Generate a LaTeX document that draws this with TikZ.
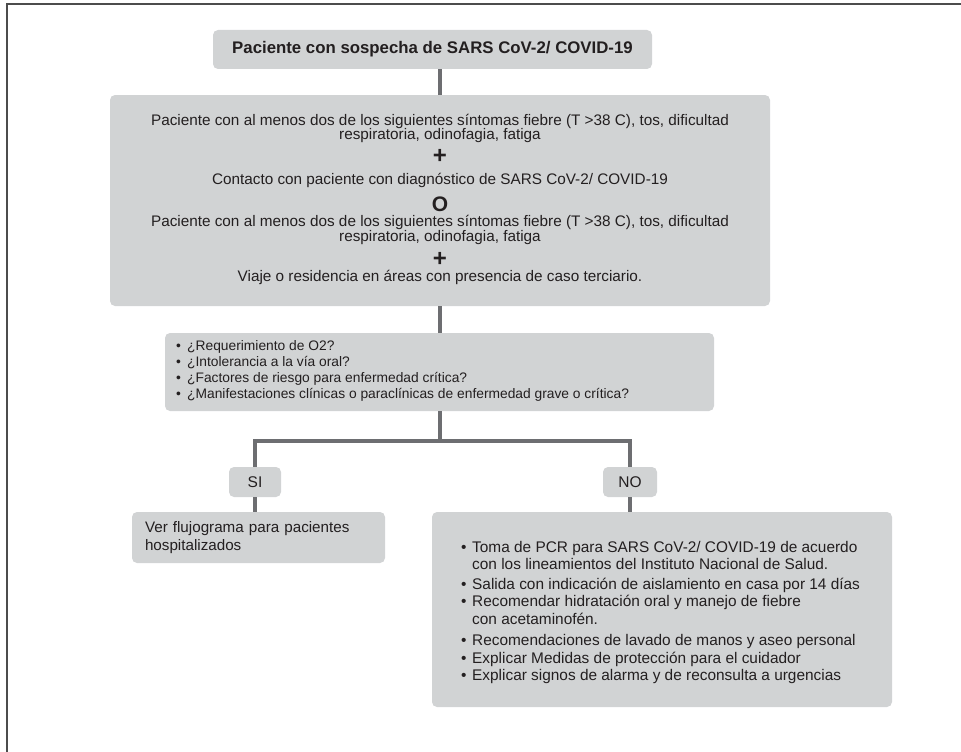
\documentclass[tikz,border=0pt]{standalone}
\usepackage{fontspec}
\setmainfont{Liberation Sans}
\definecolor{boxgray}{HTML}{D1D3D4}
\definecolor{linegray}{HTML}{6D6E71}
\definecolor{txtgray}{HTML}{231F20}
\tikzset{
  box/.style={rounded corners=5pt, fill=boxgray, draw=none, text=txtgray, inner sep=0pt},
  txt/.style={anchor=base, inner sep=0pt, text=txtgray, font=\fontsize{15.3}{15}\selectfont},
  sym/.style={anchor=base, inner sep=0pt, text=txtgray, font=\fontsize{24}{24}\selectfont\bfseries},
  link/.style={draw=linegray, line width=3.5pt},
}
\newcommand{\itm}[1]{\makebox[11pt][l]{\textbullet}#1}
\newcommand{\cnt}[1]{\hspace*{11pt}#1}
\begin{document}
\begin{tikzpicture}[x=1pt,y=-1pt]
\useasboundingbox (0,0) rectangle (961,752);
% frame
\draw[draw=black!70, line width=1.8pt] (7,752) -- (7,4) -- (961,4);
\node[box, minimum width=439, minimum height=39, font=\fontsize{16.8}{18}\selectfont\bfseries] (tid0) at (432.5,49.5){Paciente con sospecha de SARS CoV-2/ COVID-19};
% criteria box
\node[box, minimum width=660, minimum height=211] (tid1) at (440,200.5){};
\node[txt] (tid1a) at (440,125){Paciente con al menos dos de los siguientes síntomas fiebre (T >38 C), tos, dificultad};
\node[txt] (tid1b) at (440,139.5){respiratoria, odinofagia, fatiga};
\node[sym] (tid1c) at (440,163){+};
\node[txt] (tid1d) at (440,184){Contacto con paciente con diagnóstico de SARS CoV-2/ COVID-19};
\node[sym, font=\fontsize{21}{21}\selectfont\bfseries] (tid1e) at (440,211){O};
\node[txt] (tid1f) at (440,226.5){Paciente con al menos dos de los siguientes síntomas fiebre (T >38 C), tos, dificultad};
\node[txt] (tid1g) at (440,241){respiratoria, odinofagia, fatiga};
\node[sym] (tid1h) at (440,266){+};
\node[txt] (tid1i) at (440,281){Viaje o residencia en áreas con presencia de caso terciario.};
% questions
\node[box, minimum width=549, minimum height=78] (tid2) at (439.5,372){};
\node[anchor=west, align=left, inner sep=0pt, text=txtgray, font=\fontsize{13.8}{16}\selectfont] (tid2a) at (176,371){%
\itm{¿Requerimiento de O2?}\\
\itm{¿Intolerancia a la vía oral?}\\
\itm{¿Factores de riesgo para enfermedad crítica?}\\
\itm{¿Manifestaciones clínicas o paraclínicas de enfermedad grave o crítica?}};
\node[box, minimum width=52, minimum height=30, font=\fontsize{15.5}{17}\selectfont] (tid3) at (255,482){SI};
\node[box, minimum width=54, minimum height=30, font=\fontsize{15.5}{17}\selectfont] (tid4) at (630,482){NO};
\node[box, minimum width=253, minimum height=51, text width=227, inner xsep=13pt, align=left, font=\fontsize{15.2}{17.5}\selectfont] (tid5) at (258.5,537.5){%
Ver flujograma para pacientes\\
hospitalizados};
\node[box, minimum width=460, minimum height=195] (tid6) at (662,609.5){};
\node[anchor=west, align=left, inner sep=0pt, text=txtgray, font=\fontsize{15.4}{17.5}\selectfont] (tid6a) at (461,612.5){%
\itm{Toma de PCR para SARS CoV-2/ COVID-19 de acuerdo}\\
\cnt{con los lineamientos del Instituto Nacional de Salud.}\\[2pt]
\itm{Salida con indicación de aislamiento en casa por 14 días}\\
\itm{Recomendar hidratación oral y manejo de fiebre}\\
\cnt{con acetaminofén.}\\[4pt]
\itm{Recomendaciones de lavado de manos y aseo personal}\\
\itm{Explicar Medidas de protección para el cuidador}\\
\itm{Explicar signos de alarma y de reconsulta a urgencias}};
\coordinate (tsplit) at (440,441);
\draw[link] (tid1.north |- tid0.south) -- (tid1.north);
\draw[link] (tid1.south) -- (tid2.north -| tid1.south);
\draw[link] (tid2.south -| tid1.south) -- (tsplit);
\draw[link] (tsplit) -| (tid3.north);
\draw[link] (tsplit) -| (tid4.north);
\draw[link] (tid3.south) -- (tid5.north -| tid3.south);
\draw[link] (tid4.south) -- (tid6.north -| tid4.south);
\end{tikzpicture}
\end{document}
